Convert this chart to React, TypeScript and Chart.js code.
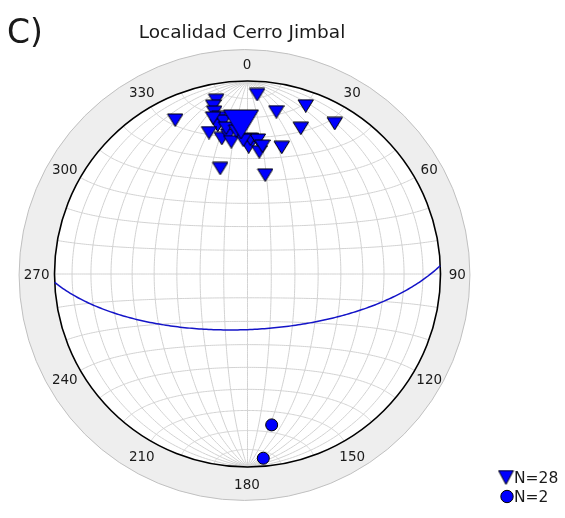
import React, { useEffect, useRef } from "react";
import { Chart, registerables } from "chart.js";

Chart.register(...registerables);

const panelLabel = "C)";
const titleText = "Localidad Cerro Jimbal";
const azimuthTicks = [0, 30, 60, 90, 120, 150, 180, 210, 240, 270, 300, 330];
const gridStep = 10;

// Poles to planes (lower hemisphere), trend / plunge in degrees
const poleTrends = [3, 10, 19, 20, 30, 15, 10, 345.4, 334.8, 349.7, 348.4, 348.3, 349.7, 348.6, 350.9, 344.7, 349.2, 352, 352.9, 0.4, 1.1, 4.3, 5.4, 6.5, 347.5, 351.6, 358.1, 355.4];
const polePlunges = [7.6, 15.7, 8.6, 20.7, 10.8, 32.5, 46.7, 42.8, 12.8, 9.3, 12.2, 15.4, 18.7, 22.3, 20.8, 25, 29.2, 28.1, 31.5, 34.4, 30.7, 31, 36.5, 33.7, 18.3, 24.5, 31.2, 26.6];

// Mean pole and its plane
const meanPoleTrend = [357.5];
const meanPolePlunge = [23.5];
const meanPlaneStrike = 87.5;
const meanPlaneDip = 66.5;

// Lineations
const lineTrends = [170.9, 175.1];
const linePlunges = [21.9, 4.7];

const D = Math.PI / 180;

function project(trend: number, plunge: number) {
  const r = Math.SQRT2 * Math.sin(((90 - plunge) / 2) * D);
  return { x: r * Math.sin(trend * D), y: r * Math.cos(trend * D) };
}

function geo(lon: number, lat: number) {
  const c = Math.cos(lat * D) * Math.cos(lon * D);
  const k = Math.sqrt(1 / (1 + c));
  return { x: k * Math.cos(lat * D) * Math.sin(lon * D), y: k * Math.sin(lat * D) };
}

function planePoints(strike: number, dip: number) {
  const pts: { x: number; y: number }[] = [];
  const s = [Math.sin(strike * D), Math.cos(strike * D), 0];
  const dd = (strike + 90) * D;
  const d = [Math.sin(dd) * Math.cos(dip * D), Math.cos(dd) * Math.cos(dip * D), Math.sin(dip * D)];
  for (let a = 0; a <= 180; a += 1) {
    const ca = Math.cos(a * D), sa = Math.sin(a * D);
    const e = ca * s[0] + sa * d[0];
    const n = ca * s[1] + sa * d[1];
    const z = ca * s[2] + sa * d[2];
    const pl = Math.asin(Math.max(-1, Math.min(1, z))) / D;
    const tr = Math.atan2(e, n) / D;
    pts.push(project(tr, pl));
  }
  return pts;
}

function triangleImage(w: number, h: number) {
  const c = document.createElement("canvas");
  c.width = w + 2;
  c.height = h + 2;
  const g = c.getContext("2d")!;
  g.beginPath();
  g.moveTo(1, 1);
  g.lineTo(w + 1, 1);
  g.lineTo(w / 2 + 1, h + 1);
  g.closePath();
  g.fillStyle = "#0000ff";
  g.fill();
  g.lineWidth = 1;
  g.strokeStyle = "#000000";
  g.lineJoin = "miter";
  g.stroke();
  return c;
}

const FONT = "'DejaVu Sans', sans-serif";

const stereoPlugin = {
  id: "stereo",
  beforeDatasetsDraw(chart: any) {
    const { ctx, scales } = chart;
    const xs = scales.x, ys = scales.y;
    const cx = xs.getPixelForValue(0), cy = ys.getPixelForValue(0);
    const R = xs.getPixelForValue(1) - cx;
    ctx.save();
    // outer ring
    const rcx = cx - 3, rcy = cy + 1, rOut = R * 1.168;
    ctx.beginPath();
    ctx.arc(rcx, rcy, rOut, 0, Math.PI * 2);
    ctx.arc(cx, cy, R, 0, Math.PI * 2, true);
    ctx.fillStyle = "#eeeeee";
    ctx.fill("evenodd");
    ctx.beginPath();
    ctx.arc(rcx, rcy, rOut, 0, Math.PI * 2);
    ctx.strokeStyle = "#c0c0c0";
    ctx.lineWidth = 1;
    ctx.stroke();
    // grid
    ctx.strokeStyle = "#d2d2d2";
    ctx.lineWidth = 1;
    for (let lon = -90 + gridStep; lon < 90; lon += gridStep) {
      ctx.beginPath();
      for (let lat = -90; lat <= 90; lat += 1) {
        const p = geo(lon, lat);
        const X = xs.getPixelForValue(p.x), Y = ys.getPixelForValue(p.y);
        if (lat === -90) ctx.moveTo(X, Y); else ctx.lineTo(X, Y);
      }
      ctx.stroke();
    }
    for (let lat = -90 + gridStep; lat < 90; lat += gridStep) {
      ctx.beginPath();
      for (let lon = -90; lon <= 90; lon += 1) {
        const p = geo(lon, lat);
        const X = xs.getPixelForValue(p.x), Y = ys.getPixelForValue(p.y);
        if (lon === -90) ctx.moveTo(X, Y); else ctx.lineTo(X, Y);
      }
      ctx.stroke();
    }
    // primitive
    ctx.beginPath();
    ctx.arc(cx, cy, R, 0, Math.PI * 2);
    ctx.strokeStyle = "#000000";
    ctx.lineWidth = 1.6;
    ctx.stroke();
    ctx.restore();
  },
  afterDraw(chart: any) {
    const { ctx, scales } = chart;
    const xs = scales.x, ys = scales.y;
    const cx = xs.getPixelForValue(0), cy = ys.getPixelForValue(0);
    const R = xs.getPixelForValue(1) - cx;
    ctx.save();
    ctx.fillStyle = "#1a1a1a";
    ctx.font = `13.5px ${FONT}`;
    ctx.textAlign = "center";
    ctx.textBaseline = "middle";
    const rl = R * 1.09;
    for (const az of azimuthTicks) {
      ctx.fillText(String(az), cx - 0.5 + rl * Math.sin(az * D), cy + 1.5 - rl * Math.cos(az * D));
    }
    ctx.fillStyle = "#1a1a1a";
    ctx.font = `18.5px ${FONT}`;
    ctx.fillText(titleText, 242, 33);
    ctx.textAlign = "left";
    ctx.font = `33px ${FONT}`;
    ctx.fillText(panelLabel, 7, 34);
    // legend
    const tri = triangleImage(15, 14);
    ctx.drawImage(tri, 506 - tri.width / 2, 477.5 - tri.height / 2);
    ctx.beginPath();
    ctx.arc(507, 496.5, 6.2, 0, Math.PI * 2);
    ctx.fillStyle = "#0000ff";
    ctx.fill();
    ctx.strokeStyle = "#000";
    ctx.lineWidth = 1;
    ctx.stroke();
    ctx.fillStyle = "#1a1a1a";
    ctx.font = `15.5px ${FONT}`;
    ctx.fillText(`N=${poleTrends.length}`, 514, 479);
    ctx.fillText(`N=${lineTrends.length}`, 514, 497.5);
    ctx.restore();
  },
};

export default function App() {
  const ref = useRef<HTMLCanvasElement | null>(null);
  useEffect(() => {
    const canvas = ref.current!;
    const small = triangleImage(15.5, 12.5);
    const big = triangleImage(35, 29);
    const poles = poleTrends.map((t, i) => project(t, polePlunges[i]));
    const mean = meanPoleTrend.map((t, i) => project(t, meanPolePlunge[i]));
    const lines = lineTrends.map((t, i) => project(t, linePlunges[i]));
    const chart = new Chart(canvas, {
      type: "scatter",
      data: {
        datasets: [
          { data: mean, pointStyle: big as any, pointRadius: 15, order: 0, clip: false as any },
          { data: poles, pointStyle: small as any, pointRadius: 8, order: 1, clip: false as any },
          {
            data: lines,
            pointStyle: "circle",
            pointRadius: 6,
            backgroundColor: "#0000ff",
            borderColor: "#000000",
            borderWidth: 1,
            order: 1,
            clip: false as any,
          },
          {
            data: planePoints(meanPlaneStrike, meanPlaneDip),
            showLine: true,
            pointRadius: 0,
            borderColor: "#1414c8",
            borderWidth: 1.5,
            order: 2,
            clip: false as any,
          },
        ],
      },
      options: {
        animation: false,
        responsive: false,
        devicePixelRatio: 1,
        layout: { padding: { left: 54.5, right: 124.5, top: 81, bottom: 51 } },
        scales: {
          x: { type: "linear", min: -1, max: 1, display: false },
          y: { type: "linear", min: -1, max: 1, display: false },
        },
        plugins: { legend: { display: false }, tooltip: { enabled: false }, title: { display: false } },
        events: [],
      },
      plugins: [stereoPlugin],
    });
    return () => chart.destroy();
  }, []);
  return (
    <div style={{ position: "absolute", left: 0, top: 0, width: 565, height: 518, background: "#fff" }}>
      <canvas ref={ref} width={565} height={518} style={{ width: 565, height: 518, display: "block" }} />
    </div>
  );
}
